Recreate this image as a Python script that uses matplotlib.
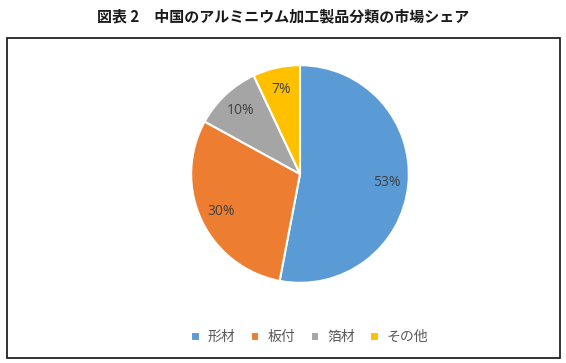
import matplotlib.pyplot as plt
from matplotlib.patches import Rectangle

plt.rcParams['font.family'] = ['Noto Sans CJK JP', 'DejaVu Sans']

# Market share of aluminium products in China
categories = ['形材', '板付', '箔材', 'その他']
shares = [53, 30, 10, 7]
colors = ['#5B9BD5', '#ED7D31', '#A5A5A5', '#FFC000']

W, H = 566, 363
fig = plt.figure(figsize=(W / 100, H / 100), dpi=100)

# outer frame of the chart area
fig.patches.append(Rectangle((7 / W, 1 - 358 / H), 553 / W, 320 / H,
                             transform=fig.transFigure, fill=False,
                             edgecolor='#222222', linewidth=1.3))

fig.text(0.5, 1 - 16 / H, '図表 2　中国のアルミニウム加工製品分類の市場シェア',
         ha='center', va='center', fontsize=10.8, fontweight='bold', color='#1a1a1a')

# pie: centre ~ (300, 174) px, radius ~110 px
r = 111
ax = fig.add_axes([(300 - r) / W, 1 - (174 + r) / H, 2 * r / W, 2 * r / H])
wedges, texts, autotexts = ax.pie(
    shares, colors=colors, startangle=90, counterclock=False,
    autopct=lambda p: f'{round(p)}%', pctdistance=0.8,
    wedgeprops=dict(edgecolor='white', linewidth=1.5))
for t in autotexts:
    t.set_fontsize(10)
    t.set_color('#404040')
    t.set_fontfamily(['Open Sans', 'DejaVu Sans'])
ax.set_aspect('equal')
ax.set_xlim(-1.02, 1.02)
ax.set_ylim(-1.02, 1.02)
ax.axis('off')

leg = fig.legend(wedges, categories, loc='center', bbox_to_anchor=(310 / W, 1 - 337 / H),
                 ncol=4, frameon=False, fontsize=10, handlelength=0.6, handleheight=0.6,
                 handletextpad=0.6, columnspacing=1.1, labelcolor='#595959')

fig.savefig('out.png', dpi=100)
